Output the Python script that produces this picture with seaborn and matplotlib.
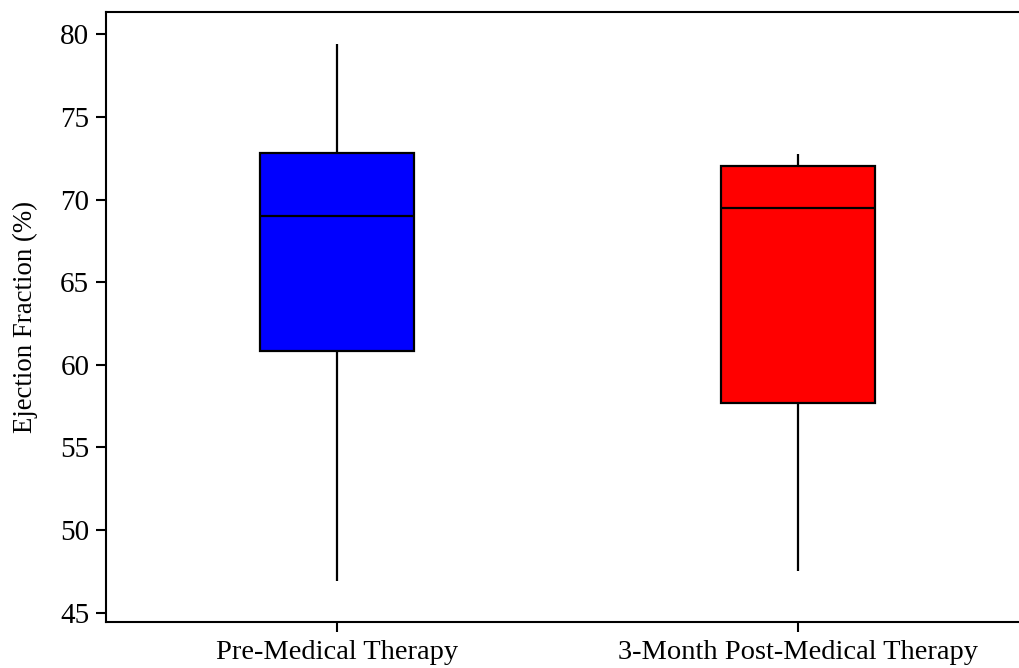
import numpy as np
import pandas as pd
import seaborn as sns
import matplotlib.pyplot as plt

# five-number summaries: min, Q1, median, Q3, max
groups = ["Pre-Medical Therapy", "3-Month Post-Medical Therapy"]
pre_values = [46.9, 60.86, 69.01, 72.83, 79.4]
post_values = [47.55, 57.71, 69.47, 72.03, 72.74]
box_colors = ["#0000ff", "#ff0000"]

df = pd.DataFrame({
    "group": [groups[0]] * len(pre_values) + [groups[1]] * len(post_values),
    "ef": pre_values + post_values,
})

sns.set_style("white")
plt.rcParams["font.family"] = ["Liberation Serif", "DejaVu Serif"]
plt.rcParams["text.color"] = "black"
plt.rcParams["axes.labelcolor"] = "black"
plt.rcParams["xtick.color"] = "black"
plt.rcParams["ytick.color"] = "black"

fig = plt.figure(figsize=(10.2, 6.68), dpi=100)
ax = fig.add_axes([0.1039, 0.0684, 0.8961 + 0.01, 0.9132])

sns.boxplot(data=df, x="group", y="ef", hue="group", palette=box_colors,
            order=groups, hue_order=groups, legend=False, whis=(0, 100),
            showcaps=False, width=0.335, saturation=1, ax=ax,
            boxprops=dict(edgecolor="black", linewidth=1.6),
            whiskerprops=dict(color="black", linewidth=1.6),
            medianprops=dict(color="black", linewidth=1.6))

ax.set_xlim(-0.502, 1.505)
ax.set_ylim(44.42, 81.33)
ax.set_yticks([45, 50, 55, 60, 65, 70, 75, 80])
ax.set_xlabel("")
ax.set_ylabel("Ejection Fraction (%)", fontsize=19.3, labelpad=16)
ax.tick_params(axis="y", labelsize=21, length=7, width=1.5, direction="out", left=True, pad=5)
ax.tick_params(axis="x", labelsize=20.5, length=7, width=1.5, direction="out", bottom=True, pad=6)
for side in ["left", "bottom", "top"]:
    ax.spines[side].set_linewidth(1.5)
    ax.spines[side].set_color("black")
ax.spines["right"].set_visible(False)

fig.savefig("out.png", dpi=100)
